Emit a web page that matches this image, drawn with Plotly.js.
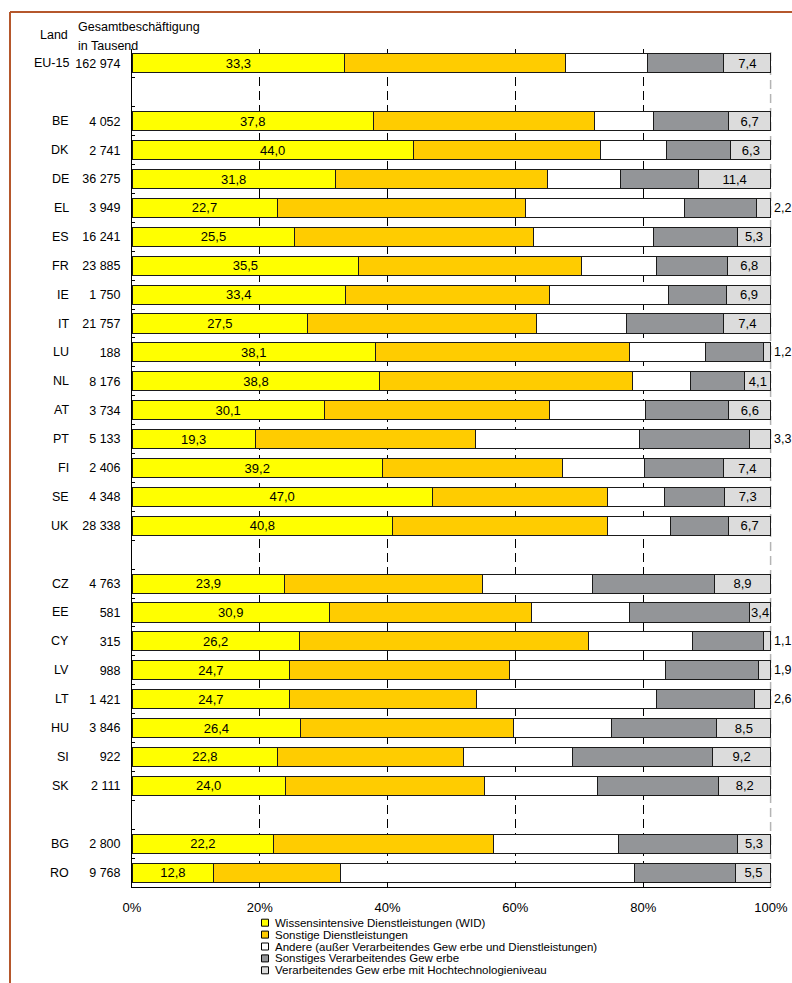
<!DOCTYPE html>
<html>
<head>
<meta charset="utf-8">
<script src="https://cdn.plot.ly/plotly-3.0.1.min.js"></script>
<style>
  html, body { margin: 0; padding: 0; background: #ffffff; }
  #chart { width: 792px; height: 983px; }
</style>
</head>
<body>
<div id="chart"></div>
<script>
// ---------- DATA ----------
const categories = ['EU-15','gap1','BE','DK','DE','EL','ES','FR','IE','IT','LU','NL','AT','PT','FI','SE','UK','gap2','CZ','EE','CY','LV','LT','HU','SI','SK','gap3','BG','RO'];
const countryLabels = ['EU-15','','BE','DK','DE','EL','ES','FR','IE','IT','LU','NL','AT','PT','FI','SE','UK','','CZ','EE','CY','LV','LT','HU','SI','SK','','BG','RO'];
const employment = [162974,null,4052,2741,36275,3949,16241,23885,1750,21757,188,8176,3734,5133,2406,4348,28338,null,4763,581,315,988,1421,3846,922,2111,null,2800,9768];

const wid           = [33.3,null,37.8,44.0,31.8,22.7,25.5,35.5,33.4,27.5,38.1,38.8,30.1,19.3,39.2,47.0,40.8,null,23.9,30.9,26.2,24.7,24.7,26.4,22.8,24.0,null,22.2,12.8];
const otherServices = [34.6,null,34.6,29.3,33.2,38.9,37.3,34.9,32.0,35.8,39.8,39.5,35.3,34.5,28.1,27.4,33.6,null,31.0,31.6,45.3,34.4,29.2,33.3,29.0,31.1,null,34.4,19.9];
const otherSectors  = [12.8,null,9.2,10.4,11.4,24.8,18.8,11.7,18.5,14.1,11.9,9.1,15.0,25.6,12.9,8.9,9.8,null,17.1,15.4,16.2,24.4,28.2,15.3,17.1,17.8,null,19.6,45.9];
const otherManuf    = [11.9,null,11.7,10.0,12.2,11.4,13.1,11.1,9.2,15.2,9.0,8.5,13.0,17.3,12.4,9.4,9.1,null,19.1,18.7,11.2,14.6,15.3,16.5,21.9,18.9,null,18.5,15.9];
const hightech      = [7.4,null,6.7,6.3,11.4,2.2,5.3,6.8,6.9,7.4,1.2,4.1,6.6,3.3,7.4,7.3,6.7,null,8.9,3.4,1.1,1.9,2.6,8.5,9.2,8.2,null,5.3,5.5];

const seriesNames = [
  'Wissensintensive Dienstleistungen (WID)',
  'Sonstige Dienstleistungen',
  'Andere (außer Verarbeitendes Gew erbe und Dienstleistungen)',
  'Sonstiges Verarbeitendes Gew erbe',
  'Verarbeitendes Gew erbe mit Hochtechnologieniveau'
];
const seriesColors = ['#ffff00','#ffcc00','#ffffff','#939598','#dcdcdc'];
const xTickVals = [0,20,40,60,80,100];
const xTickText = ['0%','20%','40%','60%','80%','100%'];
const gridVals = [20,40,60,80];

// ---------- HELPERS ----------
const FIG_W = 792, FIG_H = 983;
const M = {l:132, r:21, t:49, b:96};
const PW = FIG_W - M.l - M.r, PH = FIG_H - M.t - M.b;
const px2x = px => (px - M.l) / PW;
const px2y = py => (M.t + PH - py) / PH;
const fmtDec = v => (v == null ? '' : v.toFixed(1).replace('.', ','));
const fmtThousand = v => (v == null ? '' : String(v).replace(/\B(?=(\d{3})+(?!\d))/g, ' '));
const X_MAX = 100.002; // tiny headroom so float stacking sums stay inside the range

const FONT = 'Liberation Sans, Arial, sans-serif';
const NARROW = 'Liberation Sans Narrow, Arial Narrow, Liberation Sans, Arial, sans-serif';
const lineStyle = {color:'#1a1a1a', width:1};

const allSeries = [wid, otherServices, otherSectors, otherManuf, hightech];
const traces = allSeries.map((vals, i) => {
  const t = {
    type:'bar', orientation:'h',
    x: vals, y: categories,
    name: seriesNames[i],
    marker:{color: seriesColors[i], line: lineStyle},
    showlegend:false,
    hoverinfo:'skip',
    cliponaxis:false
  };
  if (i === 0) {
    t.text = vals.map(fmtDec);
    t.textposition = 'inside';
    t.insidetextanchor = 'middle';
    t.textangle = 0;
    t.constraintext = 'none';
    t.insidetextfont = {family: NARROW, size: 13, color:'#000'};
  }
  if (i === 4) {
    t.text = vals.map(fmtDec);
    t.textposition = vals.map(v => (v != null && v < 3.4) ? 'outside' : 'inside');
    t.insidetextanchor = 'middle';
    t.textangle = 0;
    t.constraintext = 'none';
    t.insidetextfont = {family: NARROW, size: 13, color:'#000'};
    t.outsidetextfont = {family: FONT, size: 12.5, color:'#000'};
  }
  return t;
});
// empty helper trace so that the overlaying grid axis (x2) gets a subplot
traces.push({type:'scatter', mode:'markers', x:[], y:[], xaxis:'x2', yaxis:'y', showlegend:false, hoverinfo:'skip'});

// ---------- ANNOTATIONS ----------
const annotations = [];
categories.forEach((c, i) => {
  if (countryLabels[i]) {
    annotations.push({
      xref:'paper', yref:'y', x: px2x(71), y: c,
      xanchor:'right', yanchor:'middle', showarrow:false,
      text: countryLabels[i], font:{family:FONT, size:12.5, color:'#000'}
    });
  }
});
annotations.push({xref:'paper', yref:'paper', x:px2x(70), y:px2y(35), xanchor:'right', yanchor:'middle', showarrow:false, text:'Land', font:{family:FONT, size:12.5, color:'#000'}});
annotations.push({xref:'paper', yref:'paper', x:px2x(76), y:px2y(27), xanchor:'left', yanchor:'middle', showarrow:false, text:'Gesamtbeschäftigung', font:{family:FONT, size:12.5, color:'#000'}});
annotations.push({xref:'paper', yref:'paper', x:px2x(76), y:px2y(46), xanchor:'left', yanchor:'middle', showarrow:false, text:'in Tausend', font:{family:FONT, size:12.5, color:'#000'}});

// custom compact legend
const legendTop = 922.7, legendStep = 11.9;
const shapes = [];
seriesNames.forEach((nm, i) => {
  const cy = legendTop + i * legendStep;
  shapes.push({
    type:'rect', xref:'paper', yref:'paper',
    xsizemode:'pixel', ysizemode:'pixel',
    xanchor: px2x(265), yanchor: px2y(cy),
    x0:-3.5, x1:3.5, y0:-3.5, y1:3.5,
    fillcolor: seriesColors[i], line:{color:'#000', width:1}
  });
  annotations.push({
    xref:'paper', yref:'paper', x: px2x(273), y: px2y(cy),
    xanchor:'left', yanchor:'middle', showarrow:false,
    text: nm, font:{family:FONT, size:11.5, color:'#000'}
  });
});

// 100% grey dashed line (between grid and bars)
shapes.push({type:'line', xref:'paper', yref:'paper', x0:px2x(770.6), x1:px2x(770.6), y0:0, y1:1, layer:'between',
  line:{color:'#b4b4b4', width:1.5, dash:'9px,5px'}});
// outer brown frame (top and left)
shapes.push({type:'line', xref:'paper', yref:'paper', x0:px2x(10), x1:px2x(800), y0:px2y(12), y1:px2y(12),
  line:{color:'#b5572c', width:2}});
shapes.push({type:'line', xref:'paper', yref:'paper', x0:px2x(10), x1:px2x(10), y0:px2y(12), y1:px2y(990),
  line:{color:'#b5572c', width:2}});

const layout = {
  width: FIG_W, height: FIG_H,
  margin: M,
  paper_bgcolor:'#ffffff', plot_bgcolor:'rgba(0,0,0,0)',
  font:{family:FONT, size:12.5, color:'#000'},
  barmode:'stack', bargap:0.34,
  showlegend:false,
  xaxis:{
    range:[0,X_MAX], fixedrange:true,
    tickmode:'array', tickvals:xTickVals, ticktext:xTickText,
    ticks:'inside', ticklen:5, tickcolor:'#000', tickwidth:1,
    showgrid:false, zeroline:false,
    showline:true, linecolor:'#000', linewidth:1,
    tickfont:{family:FONT, size:13, color:'#000'},
    ticklabelstandoff:8
  },
  xaxis2:{
    overlaying:'x', anchor:'y', side:'bottom', range:[0,X_MAX], fixedrange:true,
    tickmode:'array', tickvals:gridVals,
    showticklabels:false, ticks:'',
    showgrid:true, gridcolor:'#000', gridwidth:1, griddash:'9px,5px',
    zeroline:false, showline:false
  },
  yaxis:{
    type:'category', categoryorder:'array', categoryarray:categories,
    range:[categories.length - 0.5, -0.5], fixedrange:true,
    tickmode:'array', tickvals:categories, ticktext:employment.map(fmtThousand),
    tickson:'boundaries', ticks:'inside', ticklen:3, tickcolor:'#000', tickwidth:1,
    showgrid:false, zeroline:false,
    showline:true, linecolor:'#000', linewidth:1,
    tickfont:{family:FONT, size:12.5, color:'#000'},
    ticklabelstandoff:8
  },
  annotations: annotations,
  shapes: shapes
};

Plotly.newPlot('chart', traces, layout, {staticPlot:true, displayModeBar:false});
</script>
</body>
</html>
